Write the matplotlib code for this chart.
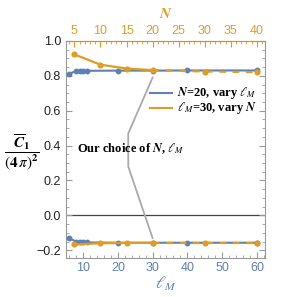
import numpy as np
import matplotlib
matplotlib.use('Agg')
import matplotlib.pyplot as plt
from matplotlib.ticker import MultipleLocator

plt.rcParams['mathtext.fontset'] = 'stix'
plt.rcParams['font.family'] = ['Liberation Sans', 'DejaVu Sans']

# N = 20, vary l_M  (blue)
lM_vals = [6, 8, 9, 10, 11, 20, 30, 40, 60]
blue_up = [0.813, 0.826, 0.828, 0.829, 0.829, 0.830, 0.830, 0.831, 0.831]
blue_lo = [-0.131, -0.150, -0.153, -0.154, -0.155, -0.157, -0.157, -0.157, -0.157]

# l_M = 30, vary N  (orange)
N_vals = [5, 10, 15, 20, 30, 40]
orng_up = [0.923, 0.864, 0.842, 0.833, 0.825, 0.821]
orng_lo = [-0.167, -0.160, -0.158, -0.157, -0.157, -0.157]

# callout path (l_M, value)
call_x = [30, 23, 23, 30]
call_y = [0.79, 0.47, 0.28, -0.13]

blue = '#5E81B5'
orange = '#E19C24'
frame = '#9a9a9a'

fig = plt.figure(figsize=(2.87, 2.97), dpi=100)
ax = fig.add_axes([0.230, 0.131, 0.693, 0.731])

ax.axhline(0, color='#444444', lw=0.9, zorder=1)
ax.plot(call_x, call_y, color='#aaaaaa', lw=1.3, zorder=1)

for yy in (blue_up, blue_lo):
    ax.plot(lM_vals, yy, '-o', color=blue, lw=1.5, ms=3.2, zorder=3)

N_arr = np.array(N_vals)
lN = 1.5 * N_arr
for yy in (orng_up, orng_lo):
    yy = np.array(yy)
    ax.plot(lN[:4], yy[:4], '-', color=orange, lw=1.6, zorder=4)
    ax.plot(lN[3:], yy[3:], '--', color=orange, lw=1.6, dashes=(3, 3), zorder=4)
    ax.plot(lN, yy, 'o', color=orange, ms=3.4, zorder=5)

ax.set_xlim(5.1, 62.3)
ax.set_ylim(-0.245, 1.0)

ax.xaxis.set_major_locator(MultipleLocator(10))
ax.xaxis.set_minor_locator(MultipleLocator(2))
ax.yaxis.set_major_locator(MultipleLocator(0.2))
ax.yaxis.set_minor_locator(MultipleLocator(0.05))
ax.tick_params(axis='both', which='both', direction='in', color=frame)
ax.tick_params(axis='x', which='both', top=False, labelcolor=blue, labelsize=9, pad=3)
ax.tick_params(axis='y', which='both', right=True, labelcolor='#222222', labelsize=9)
ax.tick_params(which='major', length=4)
ax.tick_params(which='minor', length=2)
ax.set_yticklabels([f'{v:.1f}'.replace('-', '\u2212') for v in ax.get_yticks()])
for s in ax.spines.values():
    s.set_color(frame)

sec = ax.secondary_xaxis('top', functions=(lambda x: x / 1.5, lambda n: n * 1.5))
sec.xaxis.set_major_locator(MultipleLocator(5))
sec.xaxis.set_minor_locator(MultipleLocator(1))
sec.tick_params(axis='x', which='both', direction='in', color=orange, labelcolor=orange, labelsize=9, pad=3)
sec.tick_params(which='major', length=4)
sec.tick_params(which='minor', length=2)
sec.spines['top'].set_color(orange)
sec.set_xlabel(r'$\mathbfit{N}$', color=orange, fontsize=11, labelpad=5)

ax.set_xlabel(r'$\ell_M$', color=blue, fontsize=12, labelpad=0)
ax.set_ylabel(r'$\dfrac{\overline{\mathbfit{C}}_{\mathbf{1}}}{(\mathbf{4}\,\pi)^{\mathbf{2}}}$',
              rotation=0, fontsize=11, va='center', ha='center')
ax.yaxis.set_label_coords(-0.22, 0.49)

serif = dict(family='Liberation Serif', fontweight='bold', fontsize=9)
ax.text(8.3, 0.38, r'Our choice of $\mathbfit{N}$, $\ell_M$', va='center', **serif)

ax.plot([29.2, 35.6], [0.70, 0.70], color=blue, lw=1.5)
ax.plot([29.2, 35.6], [0.615, 0.615], color=orange, lw=1.5)
ax.text(37.0, 0.70, r'$\mathbfit{N}$=20, vary $\ell_M$', va='center', **serif)
ax.text(37.0, 0.615, r'$\ell_M$=30, vary $\mathbfit{N}$', va='center', **serif)

fig.savefig('out.png', dpi=100)
